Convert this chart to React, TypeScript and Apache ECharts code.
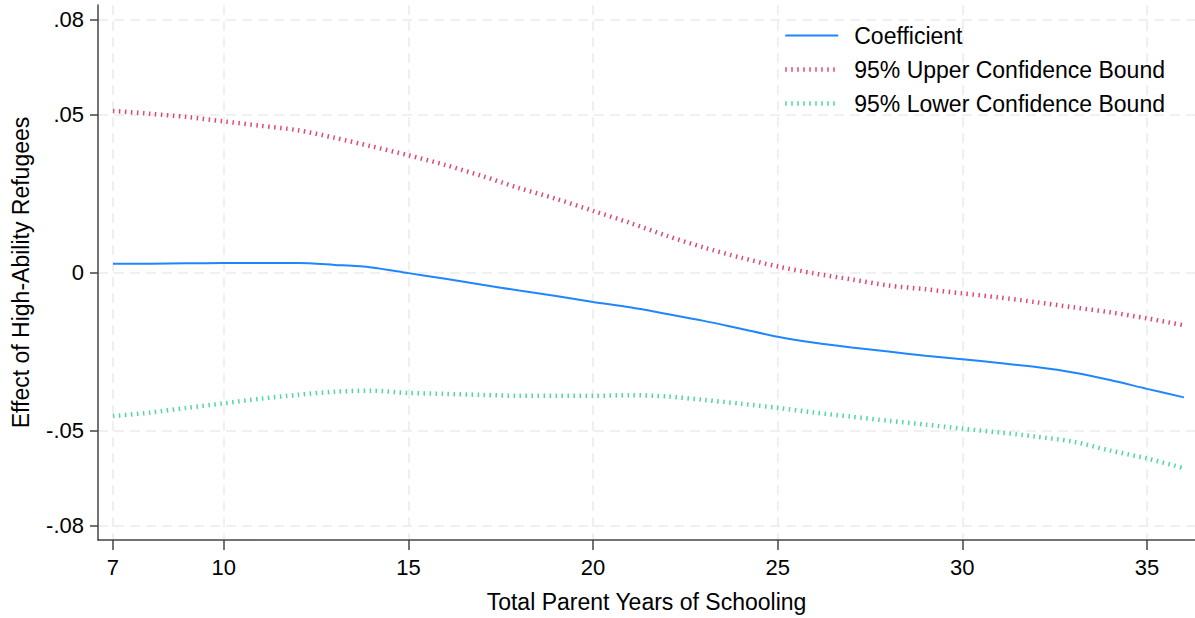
import React, { useEffect, useRef } from "react";
import * as echarts from "echarts";

// Parent years of schooling (x) and estimated effects
const years = [7, 8, 9, 10, 11, 12, 13, 14, 15, 16, 17, 18, 19, 20, 21, 22, 23, 24, 25, 26, 27, 28, 29, 30, 31, 32, 33, 34, 35, 36];

const coefficient = [
  0.0028, 0.0028, 0.0029, 0.003, 0.003, 0.003, 0.0024, 0.0016, -0.0002, -0.002,
  -0.0039, -0.0057, -0.0074, -0.0093, -0.011, -0.0131, -0.0153, -0.0178, -0.0203, -0.0222,
  -0.0237, -0.025, -0.0263, -0.0274, -0.0286, -0.0299, -0.0316, -0.034, -0.0368, -0.0395,
];

const upperBound = [
  0.0511, 0.0502, 0.0492, 0.0478, 0.0464, 0.045, 0.0426, 0.0399, 0.0371, 0.034,
  0.0305, 0.0267, 0.0233, 0.0195, 0.0157, 0.0116, 0.0079, 0.0047, 0.0019, -0.0003,
  -0.0022, -0.0041, -0.0053, -0.0066, -0.0079, -0.0094, -0.011, -0.0126, -0.0145, -0.0167,
];

const lowerBound = [
  -0.0454, -0.0443, -0.0428, -0.0414, -0.0399, -0.0387, -0.0377, -0.0374, -0.0381, -0.0384,
  -0.0387, -0.039, -0.039, -0.039, -0.0388, -0.0392, -0.0403, -0.0415, -0.0428, -0.0443,
  -0.0456, -0.0469, -0.0481, -0.0494, -0.0506, -0.0519, -0.0535, -0.0563, -0.0588, -0.0619,
];

const xTicks = [7, 10, 15, 20, 25, 30, 35];
const yTicks = [-0.08, -0.05, 0, 0.05, 0.08];

const FONT = "Liberation Sans, Arial, sans-serif";
const BLUE = "#1f86ff";
const PINK = "#e2457c";
const GREEN = "#4fd6a2";

const dottedStyle = (color: string) => ({
  color,
  width: 4.5,
  type: [1.5, 4.5] as number[],
  cap: "butt" as const,
});

// hide the marker circle that line-series legend icons carry by default
const noMarker = { color: "rgba(0,0,0,0)", borderWidth: 0, opacity: 0 };

const formatY = (v: number) => {
  if (Math.abs(v) < 1e-9) return "0";
  const s = Math.abs(v).toFixed(2).replace(/^0/, "");
  return (v < 0 ? "-" : "") + s;
};

export default function App() {
  const ref = useRef<HTMLDivElement>(null);

  useEffect(() => {
    if (!ref.current) return;
    const chart = echarts.init(ref.current, null, { renderer: "svg" });

    const pair = (vals: number[]) => years.map((x, i) => [x, vals[i]]);

    const gridLine = {
      show: true,
      lineStyle: { color: "#ebebeb", width: 1.5, type: [10, 6] as number[] },
    };

    chart.setOption({
      animation: false,
      backgroundColor: "#ffffff",
      grid: { left: 98, right: 0, top: 5, bottom: 75, containLabel: false },
      legend: {
        orient: "vertical",
        left: 783,
        top: 24,
        padding: 0,
        itemWidth: 53,
        itemHeight: 14,
        itemGap: 11,
        selectedMode: false,
        textStyle: {
          fontFamily: FONT,
          fontSize: 23,
          color: "#000",
          lineHeight: 23,
          padding: [0, 0, 0, 11],
        },
        data: [
          { name: "Coefficient", itemStyle: noMarker, lineStyle: { color: BLUE, width: 2, type: "solid" } },
          { name: "95% Upper Confidence Bound", itemStyle: noMarker, lineStyle: dottedStyle(PINK) },
          { name: "95% Lower Confidence Bound", itemStyle: noMarker, lineStyle: dottedStyle(GREEN) },
        ],
      },
      xAxis: {
        type: "value",
        min: 6.594,
        max: 36.3,
        name: "Total Parent Years of Schooling",
        nameLocation: "middle",
        nameGap: 50,
        nameTextStyle: { fontFamily: FONT, fontSize: 23, color: "#000" },
        axisLine: { show: true, onZero: false, lineStyle: { color: "#444", width: 1.5 } },
        axisTick: { show: true, length: 10, customValues: xTicks, lineStyle: { color: "#444", width: 1.5 } },
        axisLabel: {
          customValues: xTicks,
          fontFamily: FONT,
          fontSize: 22,
          color: "#000",
          margin: 16,
          showMinLabel: true,
          showMaxLabel: true,
        },
        splitLine: gridLine,
      },
      yAxis: {
        type: "value",
        min: -0.0846,
        max: 0.0846,
        name: "Effect of High-Ability Refugees",
        nameLocation: "middle",
        nameGap: 66,
        nameRotate: 90,
        nameTextStyle: { fontFamily: FONT, fontSize: 23, color: "#000" },
        axisLine: { show: true, onZero: false, lineStyle: { color: "#444", width: 1.5 } },
        axisTick: { show: true, length: 8, customValues: yTicks, lineStyle: { color: "#444", width: 1.5 } },
        axisLabel: {
          customValues: yTicks,
          fontFamily: FONT,
          fontSize: 22,
          color: "#000",
          margin: 14,
          formatter: formatY,
        },
        splitLine: gridLine,
      },
      series: [
        {
          name: "Coefficient",
          type: "line",
          data: pair(coefficient),
          symbol: "none",
          smooth: 0.3,
          lineStyle: { color: BLUE, width: 2 },
          itemStyle: { color: BLUE },
          z: 3,
        },
        {
          name: "95% Upper Confidence Bound",
          type: "line",
          data: pair(upperBound),
          symbol: "none",
          smooth: 0.3,
          lineStyle: dottedStyle(PINK),
          itemStyle: { color: PINK },
        },
        {
          name: "95% Lower Confidence Bound",
          type: "line",
          data: pair(lowerBound),
          symbol: "none",
          smooth: 0.3,
          lineStyle: dottedStyle(GREEN),
          itemStyle: { color: GREEN },
        },
      ],
    });

    return () => chart.dispose();
  }, []);

  return (
    <div
      ref={ref}
      style={{ position: "fixed", left: 0, top: 0, width: 1195, height: 618, background: "#fff" }}
    />
  );
}
